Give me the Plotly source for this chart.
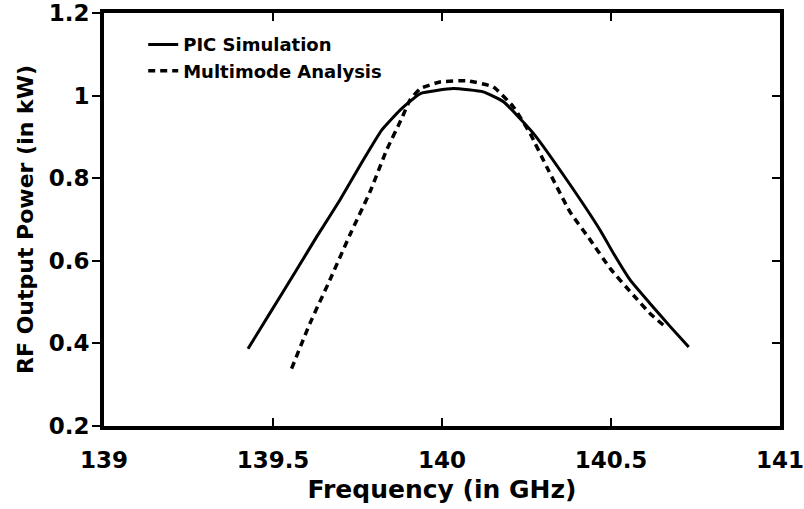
import plotly.graph_objects as go

# PIC Simulation (solid)
pic_freq = [139.426, 139.490, 139.569, 139.629, 139.698, 139.767, 139.821, 139.876,
            139.936, 140.033, 140.122, 140.182, 140.271, 140.370, 140.468, 140.508,
            140.557, 140.616, 140.676, 140.730]
pic_power = [0.387, 0.472, 0.577, 0.658, 0.747, 0.844, 0.916, 0.965,
             1.005, 1.017, 1.009, 0.985, 0.908, 0.795, 0.674, 0.617,
             0.553, 0.496, 0.440, 0.391]

# Multimode Analysis (dashed)
mm_freq = [139.555, 139.609, 139.668, 139.727, 139.787, 139.836, 139.881, 139.905,
           139.936, 139.994, 140.073, 140.152, 140.211, 140.261, 140.310, 140.379,
           140.439, 140.498, 140.567, 140.616, 140.661]
mm_power = [0.339, 0.448, 0.553, 0.662, 0.767, 0.868, 0.945, 0.989,
            1.017, 1.033, 1.036, 1.021, 0.973, 0.908, 0.827, 0.718,
            0.650, 0.581, 0.516, 0.472, 0.440]

x_ticks = [139, 139.5, 140, 140.5, 141]
x_labels = ["139", "139.5", "140", "140.5", "141"]
y_ticks = [0.2, 0.4, 0.6, 0.8, 1.0, 1.2]
y_labels = ["0.2", "0.4", "0.6", "0.8", "1", "1.2"]

FONT = "DejaVu Sans"
BOLD = dict(family=FONT, weight="bold", color="black")

fig = go.Figure()
fig.add_trace(go.Scatter(x=pic_freq, y=pic_power, mode="lines", name="PIC Simulation",
                         line=dict(color="black", width=3, shape="spline", smoothing=0.4)))
fig.add_trace(go.Scatter(x=mm_freq, y=mm_power, mode="lines", name="Multimode Analysis",
                         line=dict(color="black", width=3.5, dash="7px,5px", shape="spline", smoothing=0.4)))
# invisible trace for the right axis
fig.add_trace(go.Scatter(x=[139], y=[0.2], yaxis="y2", mode="markers", showlegend=False,
                         marker=dict(opacity=0), hoverinfo="skip"))

fig.update_layout(
    width=804, height=509,
    margin=dict(l=104, r=24, t=13, b=83),
    plot_bgcolor="white", paper_bgcolor="white",
    font=dict(family=FONT, color="black"),
    showlegend=True,
    legend=dict(x=0.058, y=0.968, xanchor="left", yanchor="top",
                bgcolor="rgba(0,0,0,0)", font=dict(size=18, **BOLD)),
    xaxis=dict(range=[139, 141], tickvals=x_ticks, ticktext=x_labels,
               ticks="inside", ticklen=8, tickwidth=2, tickcolor="black",
               showline=True, linewidth=4, linecolor="black", mirror="ticks",
               showgrid=False, zeroline=False, ticklabelstandoff=10,
               ticklabeloverflow="allow", automargin=False,
               tickfont=dict(size=23, **BOLD),
               title=dict(text="Frequency (in GHz)", font=dict(size=25, **BOLD), standoff=10)),
    yaxis=dict(range=[0.2, 1.2], tickvals=y_ticks, ticktext=y_labels,
               ticks="outside", ticklen=8, tickwidth=2, tickcolor="black",
               showline=True, linewidth=4, linecolor="black", mirror=True,
               showgrid=False, zeroline=False, ticklabelstandoff=-2, automargin=False,
               tickfont=dict(size=23, **BOLD),
               title=dict(text="RF Output Power (in kW)", font=dict(size=22, **BOLD), standoff=10)),
    yaxis2=dict(range=[0.2, 1.2], tickvals=y_ticks, overlaying="y", side="right",
                ticks="inside", ticklen=8, tickwidth=2, tickcolor="black", automargin=False,
                showticklabels=False, showline=False, showgrid=False, zeroline=False),
)

fig.write_html("out.html")
